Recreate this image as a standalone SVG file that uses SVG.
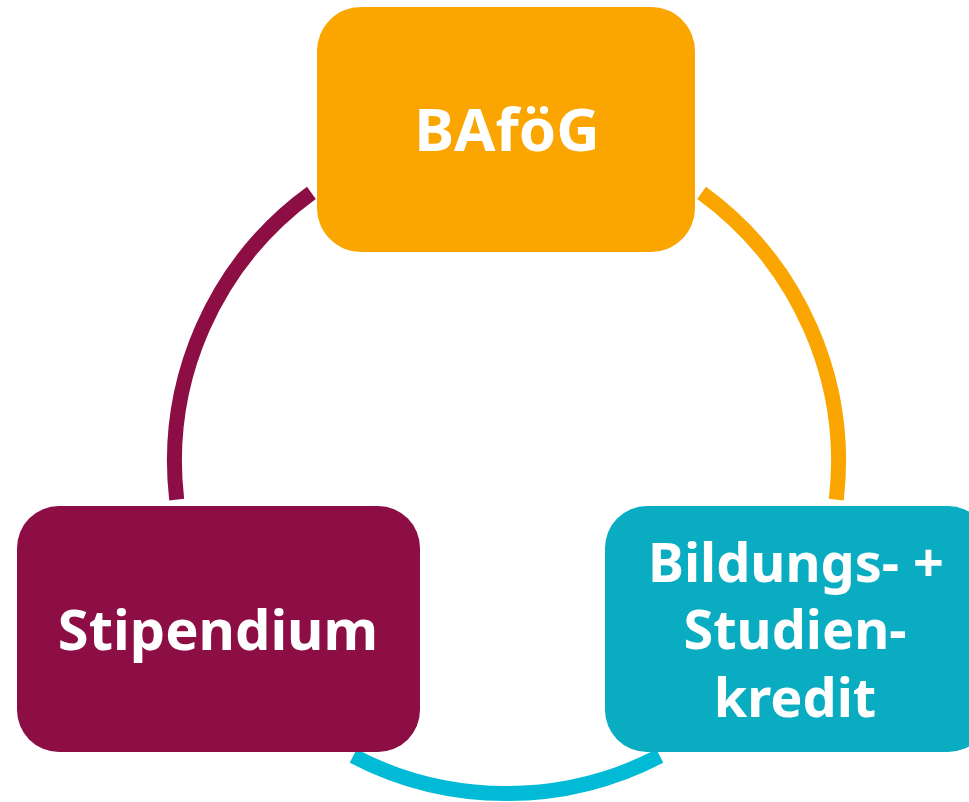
<svg xmlns="http://www.w3.org/2000/svg" width="969" height="802" viewBox="0 0 969 802">
<style>
.arc{fill:none;stroke-width:15;stroke-linecap:butt}
.lbl{font-family:"Noto Sans","Open Sans","DejaVu Sans",sans-serif;font-weight:bold;font-size:56px;fill:#ffffff;text-anchor:middle}
.sm{font-size:54px}
</style>
<rect width="969" height="802" fill="#ffffff"/>
<g id="connectors">
<path class="arc" stroke="#8C0E45" d="M311.4,192.9 A332,332 0 0 0 176.7,499.7"/>
<path class="arc" stroke="#FAA500" d="M701.6,192.9 A332,332 0 0 1 836.3,499.7"/>
<path class="arc" stroke="#00BAD6" d="M659.8,756 A332,332 0 0 1 353.2,756"/>
</g>
<g id="bafoeg">
<rect x="317" y="7" width="378" height="245" rx="44" fill="#FAA500"/>
<text class="lbl" x="507" y="151" style="font-size:60px">BAföG</text>
</g>
<g id="stipendium">
<rect x="17" y="506" width="403" height="246" rx="42" fill="#8C0E45"/>
<text class="lbl" x="218" y="650">Stipendium</text>
</g>
<g id="kredit">
<rect x="605" y="506" width="385" height="246" rx="42" fill="#0AACC1"/>
<text class="lbl sm" x="796" y="582">Bildungs- +</text>
<text class="lbl sm" x="795" y="649">Studien-</text>
<text class="lbl sm" x="795" y="717">kredit</text>
</g>
</svg>
